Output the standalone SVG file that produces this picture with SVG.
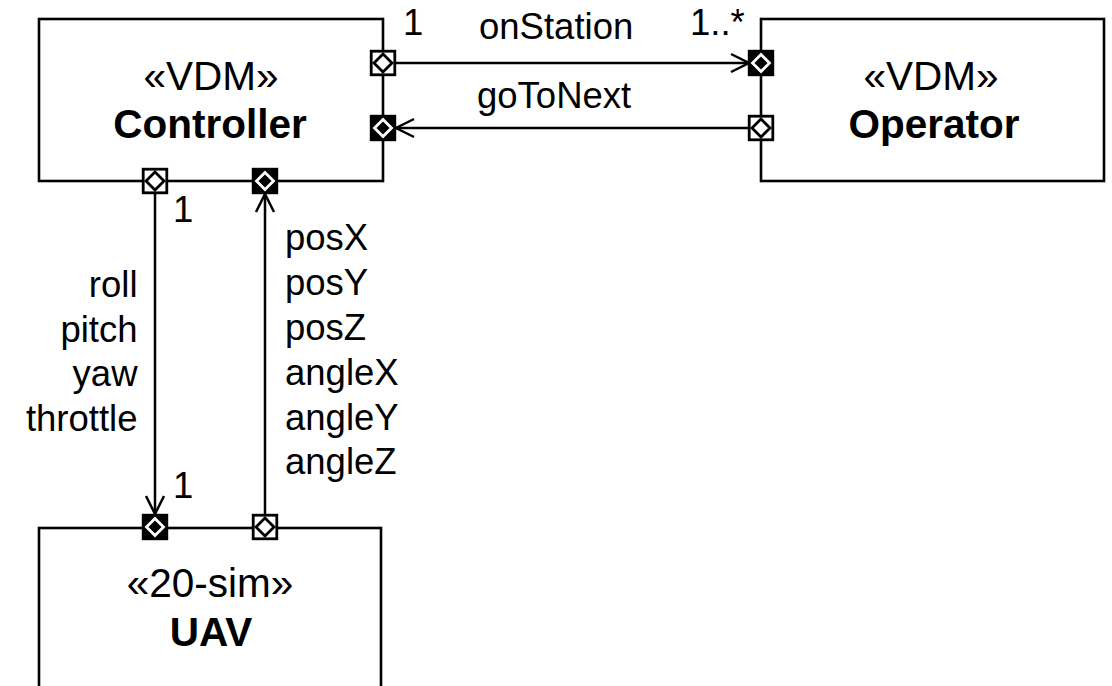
<svg xmlns="http://www.w3.org/2000/svg" xmlns:xlink="http://www.w3.org/1999/xlink" width="1112" height="686" viewBox="0 0 1112 686">
  <style>
    .box { fill: #ffffff; stroke: #000000; stroke-width: 2.6; }
    .conn { fill: none; stroke: #000000; stroke-width: 2.5; }
    .st { font-family: "Liberation Sans", Arial, sans-serif; font-size: 40.5px; fill: #000; text-anchor: middle; }
    .nm { font-family: "Liberation Sans", Arial, sans-serif; font-size: 40.5px; font-weight: bold; fill: #000; text-anchor: middle; }
    .lb { font-family: "Liberation Sans", Arial, sans-serif; font-size: 36.5px; fill: #000; }
    .end { text-anchor: end; }
  </style>
  <defs>
    <marker id="arrow" viewBox="0 0 20 20" markerUnits="userSpaceOnUse" markerWidth="20" markerHeight="20" refX="18" refY="10" orient="auto" overflow="visible">
      <path d="M0,1 L18,10 L0,19" fill="none" stroke="#000" stroke-width="2.5"/>
    </marker>
    <g id="portOpen">
      <rect x="-11.8" y="-11.8" width="23.6" height="23.6" fill="#fff" stroke="#000" stroke-width="2.8"/>
      <path d="M0,-9 L9,0 L0,9 L-9,0 Z" fill="#fff" stroke="#000" stroke-width="2.8"/>
    </g>
    <g id="portFilled">
      <rect x="-11.8" y="-11.8" width="23.6" height="23.6" fill="#000" stroke="#000" stroke-width="2.8"/>
      <path d="M0,-8.5 L8.5,0 L0,8.5 L-8.5,0 Z" fill="#000" stroke="#fff" stroke-width="2.8"/>
    </g>
  </defs>
  <rect width="1112" height="686" fill="#fff"/>

  <g id="connectors">
    <line class="conn" x1="396" y1="63" x2="749" y2="63" marker-end="url(#arrow)"/>
    <line class="conn" x1="749" y1="128" x2="396" y2="128" marker-end="url(#arrow)"/>
    <line class="conn" x1="155" y1="194" x2="155" y2="514" marker-end="url(#arrow)"/>
    <line class="conn" x1="265" y1="514" x2="265" y2="194" marker-end="url(#arrow)"/>
    <text class="lb" x="403" y="35">1</text>
    <text class="lb" x="479" y="39">onStation</text>
    <text class="lb" x="690" y="35">1..*</text>
    <text class="lb" x="477" y="108">goToNext</text>
    <text class="lb" x="173" y="222">1</text>
    <text class="lb end" x="137.5" y="297">roll</text>
    <text class="lb end" x="137.5" y="341.5">pitch</text>
    <text class="lb end" x="137.5" y="386">yaw</text>
    <text class="lb end" x="137.5" y="430.5">throttle</text>
    <text class="lb" x="285" y="249.5">posX</text>
    <text class="lb" x="285" y="294.5">posY</text>
    <text class="lb" x="285" y="339.5">posZ</text>
    <text class="lb" x="285" y="384.5">angleX</text>
    <text class="lb" x="285" y="429.5">angleY</text>
    <text class="lb" x="285" y="474">angleZ</text>
    <text class="lb" x="173" y="498">1</text>
  </g>

  <g id="controller">
    <rect class="box" x="39" y="19" width="344" height="162"/>
    <text class="st" x="211" y="90">«VDM»</text>
    <text class="nm" x="210" y="138">Controller</text>
    <use xlink:href="#portOpen" x="383" y="63"/>
    <use xlink:href="#portFilled" x="383" y="128"/>
    <use xlink:href="#portOpen" x="155" y="181"/>
    <use xlink:href="#portFilled" x="265" y="181"/>
  </g>

  <g id="operator">
    <rect class="box" x="761" y="19" width="343" height="162"/>
    <text class="st" x="931" y="90">«VDM»</text>
    <text class="nm" x="934" y="138">Operator</text>
    <use xlink:href="#portFilled" x="761" y="63"/>
    <use xlink:href="#portOpen" x="761" y="128"/>
  </g>

  <g id="uav">
    <rect class="box" x="39" y="528" width="342" height="200"/>
    <text class="st" x="210" y="597">«20-sim»</text>
    <text class="nm" x="211" y="646">UAV</text>
    <use xlink:href="#portFilled" x="155" y="527"/>
    <use xlink:href="#portOpen" x="265" y="527"/>
  </g>
</svg>
